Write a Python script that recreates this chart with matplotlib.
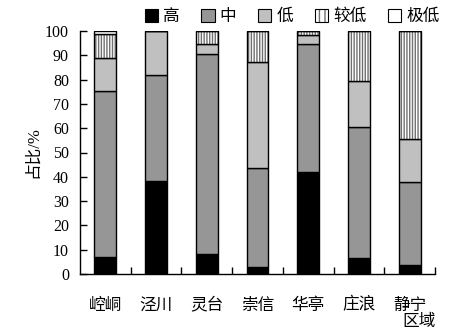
import matplotlib
matplotlib.use("Agg")
import matplotlib.pyplot as plt
from matplotlib.patches import Patch
from matplotlib.legend_handler import HandlerTuple
import numpy as np

plt.rcParams['font.family'] = ['Liberation Serif', 'Noto Sans CJK SC']
plt.rcParams['hatch.linewidth'] = 1.0

regions = ['崆峒', '泾川', '灵台', '崇信', '华亭', '庄浪', '静宁']
levels = ['高', '中', '低', '较低', '极低']
high = [6.9, 38.3, 8.2, 2.9, 42.0, 6.6, 3.6]
mid = [68.3, 43.5, 82.2, 40.6, 52.5, 53.8, 34.1]
low = [13.6, 18.2, 4.1, 43.9, 3.7, 18.9, 17.7]
lower = [9.8, 0.0, 5.5, 12.6, 1.8, 20.7, 44.6]
lowest = [1.4, 0.0, 0.0, 0.0, 0.0, 0.0, 0.0]
y_ticks = list(range(0, 101, 10))

series = [high, mid, low, lower, lowest]
faces = ['black', '#969696', '#c0c0c0', 'white', 'white']
hatches = [None, None, None, '||||||', None]

fig = plt.figure(figsize=(4.5, 3.34), dpi=100)
ax = fig.add_axes([80/450, 60/334, 355/450, 243/334])

x = np.arange(len(regions))
w = 0.43
bottom = np.zeros(len(regions))
handles = []
for vals, fc, h, lab in zip(series, faces, hatches, levels):
    vals = np.array(vals)
    if h:
        ax.bar(x, vals, w, bottom=bottom, color=fc, edgecolor='#707070',
               hatch=h, linewidth=0)
    ax.bar(x, vals, w, bottom=bottom, color='none' if h else fc,
           edgecolor='black', linewidth=1.0)
    if h:
        hp = Patch(facecolor=fc, edgecolor='#707070', hatch='|||', linewidth=0)
        op = Patch(facecolor='none', edgecolor='black', linewidth=0.8)
        handles.append((hp, op))
    else:
        handles.append(Patch(facecolor=fc, edgecolor='black', linewidth=0.8))
    bottom += vals

ax.set_xlim(-0.5, len(regions) - 0.5)
ax.set_ylim(0, 100)
ax.set_yticks(y_ticks)
ax.set_yticklabels([str(t) for t in y_ticks], fontsize=11.5)
ax.tick_params(axis='y', direction='in', length=5, width=1, pad=8)
ax.set_xticks(x)
ax.set_xticklabels(regions, fontsize=12)
ax.tick_params(axis='x', which='major', length=0, pad=17)
ax.set_xticks(np.arange(len(regions)) + 0.5, minor=True)
ax.tick_params(axis='x', which='minor', direction='in', length=5, width=1)
for s in ['top', 'right']:
    ax.spines[s].set_visible(False)
for s in ['left', 'bottom']:
    ax.spines[s].set_linewidth(1.0)

ax.set_ylabel('占比/%', fontsize=12, labelpad=3)
fig.text(419/450, 1 - 322/334, '区域', fontsize=12, ha='center', va='center')

fig.legend(handles, levels, loc='center', bbox_to_anchor=(292/450, 1 - 17/334),
           ncol=5, frameon=False, fontsize=12, handlelength=0.8,
           handleheight=0.8, handletextpad=0.3, columnspacing=1.3,
           handler_map={tuple: HandlerTuple(ndivide=1)})

fig.savefig('out.png', dpi=100)
